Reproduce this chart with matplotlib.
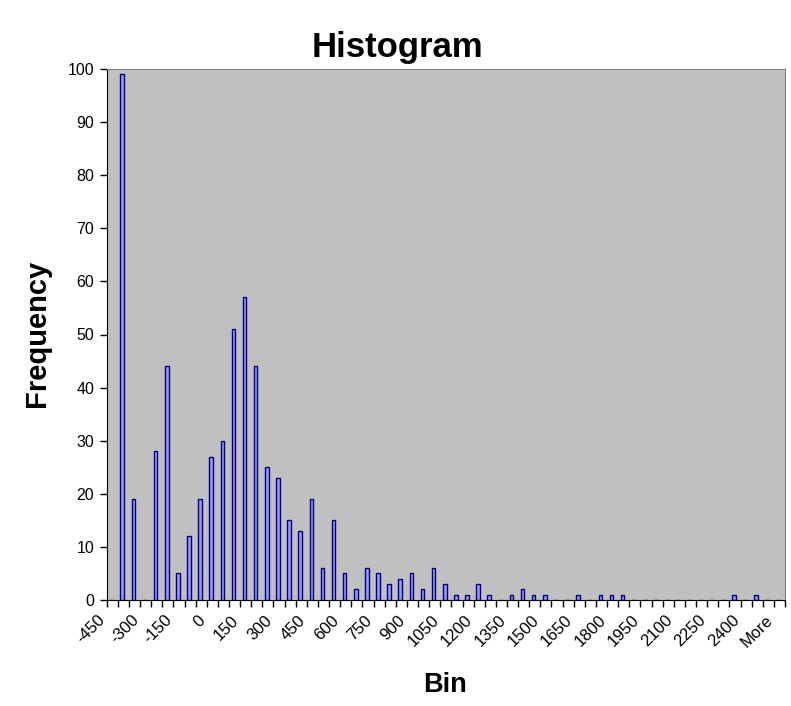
import numpy as np
import matplotlib
matplotlib.use('Agg')
import matplotlib.pyplot as plt
from matplotlib.transforms import ScaledTranslation

plt.rcParams['font.family'] = ['Liberation Sans', 'DejaVu Sans']

bins = [str(b) for b in range(-450, 2501, 50)] + ['More']
freq = [0, 99, 19, 0, 28, 44, 5, 12, 19, 27,
        30, 51, 57, 44, 25, 23, 15, 13, 19, 6,
        15, 5, 2, 6, 5, 3, 4, 5, 2, 6,
        3, 1, 1, 3, 1, 0, 1, 2, 1, 1,
        0, 0, 1, 0, 1, 1, 1, 0, 0, 0,
        0, 0, 0, 0, 0, 0, 1, 0, 1, 0,
        0]

fig = plt.figure(figsize=(7.91, 7.06), dpi=100)
ax = fig.add_axes([106.7/791, 1-600/706, (785-106.7)/791, (600-69)/706])
ax.set_facecolor('#C0C0C0')

x = np.arange(len(bins))
ax.bar(x - 0.1, freq, width=0.32, color='#9999FF', edgecolor='#000080', linewidth=1.0)

ax.set_xlim(-0.5, len(bins) - 0.5)
ax.set_ylim(0, 100)
ax.set_yticks(range(0, 101, 10))
ax.tick_params(axis='y', direction='out', length=5, width=1, labelsize=11.5, pad=4)

# category boundaries get the tick marks, every 3rd category gets a label
ax.set_xticks(np.arange(len(bins) + 1) - 0.5)
ax.set_xticklabels([])
ax.tick_params(axis='x', which='major', direction='out', length=5, width=1)
ax.set_xticks(x[::3], bins[::3], minor=True)
ax.tick_params(axis='x', which='minor', length=0, labelsize=12, pad=9)
off = ScaledTranslation(-4/100, 0, fig.dpi_scale_trans)
for lab in ax.get_xticklabels(minor=True):
    lab.set_rotation(45)
    lab.set_ha('right')
    lab.set_va('top')
    lab.set_transform(lab.get_transform() + off)

for s in ['left', 'bottom']:
    ax.spines[s].set_color('black')
for s in ['top', 'right']:
    ax.spines[s].set_color('#808080')

fig.text(397/791, 1-47/706, 'Histogram', ha='center', va='center', fontsize=25, fontweight='bold')
fig.text(37/791, 1-333/706, 'Frequency', ha='center', va='center', rotation=90, fontsize=21, fontweight='bold')
fig.text(445/791, 1-685/706, 'Bin', ha='center', va='center', fontsize=19.5, fontweight='bold')

plt.savefig('out.png', dpi=100)
